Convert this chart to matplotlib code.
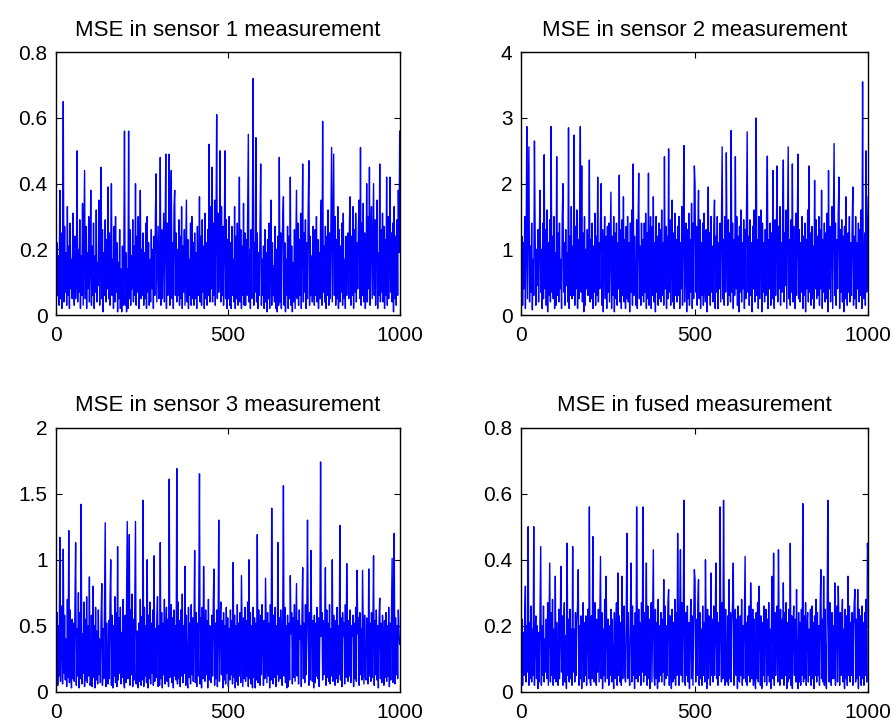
import numpy as np
import matplotlib.pyplot as plt

plt.rcParams['font.family'] = ['Liberation Sans', 'DejaVu Sans']

# MSE values, in hundredths (500 samples per panel, k = 1..1000)
mse_s1 = [4, 22, 6, 18, 3, 38, 5, 25, 2, 16, 65, 4, 27, 7, 19, 3, 33, 6, 21, 2, 28, 8, 17, 5, 31,
          14, 3, 24, 5, 11, 50, 4, 20, 7, 29, 2, 18, 6, 34, 3, 24, 44, 5, 27, 2, 19, 8, 30, 4, 15,
          38, 3, 21, 6, 28, 2, 18, 7, 32, 4, 16, 9, 35, 3, 22, 45, 5, 26, 1, 19, 6, 29, 4, 23, 8,
          39, 5, 25, 3, 20, 40, 6, 17, 2, 27, 4, 30, 7, 22, 1, 16, 5, 26, 2, 14, 1, 21, 3, 17, 56,
          3, 19, 1, 14, 2, 56, 5, 26, 3, 18, 8, 29, 4, 21, 6, 40, 3, 24, 7, 30, 2, 17, 38, 5, 20,
          6, 25, 3, 19, 5, 28, 2, 30, 7, 22, 3, 17, 4, 26, 8, 20, 2, 24, 6, 31, 43, 4, 16, 27, 5,
          7, 48, 3, 26, 5, 19, 31, 4, 23, 49, 2, 28, 6, 15, 49, 3, 27, 44, 5, 22, 2, 33, 38, 6, 25,
          4, 20, 6, 29, 3, 24, 5, 33, 2, 21, 7, 26, 3, 18, 35, 4, 23, 2, 17, 6, 28, 3, 30, 5, 22,
          3, 25, 5, 19, 2, 27, 6, 15, 36, 4, 24, 3, 29, 7, 21, 2, 31, 5, 22, 3, 26, 6, 52, 4, 33,
          8, 45, 4, 28, 6, 35, 3, 26, 61, 5, 31, 7, 20, 50, 4, 33, 6, 27, 3, 21, 50, 5, 29, 2, 23,
          5, 30, 3, 22, 2, 27, 6, 17, 4, 33, 2, 24, 5, 28, 3, 20, 42, 4, 26, 2, 21, 6, 34, 3, 25,
          3, 23, 6, 29, 55, 4, 20, 2, 26, 5, 31, 72, 3, 22, 7, 54, 4, 25, 2, 19, 6, 28, 46, 3, 17,
          6, 21, 2, 26, 4, 19, 1, 23, 5, 28, 2, 17, 35, 3, 22, 6, 15, 4, 27, 2, 20, 1, 24, 3, 48,
          4, 25, 2, 19, 29, 36, 3, 22, 1, 17, 6, 27, 2, 24, 5, 42, 3, 21, 1, 16, 4, 26, 2, 20, 38,
          5, 28, 3, 23, 6, 31, 2, 20, 46, 4, 25, 7, 29, 2, 22, 5, 33, 47, 3, 24, 6, 18, 4, 27, 8,
          3, 26, 6, 30, 4, 23, 2, 19, 5, 28, 35, 3, 59, 7, 21, 4, 27, 2, 24, 6, 32, 3, 25, 5, 29,
          51, 4, 27, 49, 6, 30, 3, 23, 5, 33, 2, 26, 4, 21, 7, 28, 3, 31, 5, 17, 2, 24, 6, 20, 25,
          5, 29, 36, 3, 24, 6, 33, 2, 26, 7, 31, 4, 22, 8, 27, 35, 5, 51, 3, 28, 6, 34, 4, 25, 2,
          7, 40, 4, 30, 8, 45, 3, 25, 33, 5, 22, 40, 6, 29, 3, 24, 35, 2, 19, 6, 46, 4, 26, 7, 31,
          4, 27, 2, 23, 6, 42, 3, 30, 5, 20, 42, 7, 25, 4, 28, 1, 33, 5, 24, 3, 29, 6, 38, 19, 56]

mse_s2 = [30, 120, 15, 110, 40, 150, 10, 95, 287, 25, 135, 256, 20, 105, 35, 140, 8, 85, 30, 265, 125, 15, 100, 45, 130,
          20, 115, 190, 35, 100, 10, 140, 25, 244, 40, 130, 15, 160, 5, 110, 30, 145, 20, 287, 35, 120, 25, 150, 10, 95,
          15, 241, 30, 125, 20, 140, 40, 85, 10, 150, 200, 35, 110, 15, 130, 45, 95, 20, 285, 10, 120, 30, 165, 25, 105,
          30, 274, 15, 135, 40, 160, 10, 115, 25, 145, 287, 35, 227, 20, 125, 5, 150, 15, 100, 40, 130, 30, 90, 236, 20,
          115, 25, 140, 10, 105, 35, 155, 15, 120, 30, 210, 20, 110, 40, 145, 200, 15, 130, 5, 95, 150, 25, 120, 10, 135,
          35, 140, 20, 105, 187, 10, 120, 30, 150, 5, 125, 25, 140, 15, 110, 40, 213, 20, 130, 10, 145, 30, 180, 20, 115,
          10, 135, 25, 150, 20, 110, 5, 140, 35, 160, 15, 230, 30, 120, 45, 15, 145, 10, 130, 216, 25, 105, 15, 140, 30,
          115, 20, 140, 35, 155, 10, 125, 25, 216, 15, 100, 150, 10, 135, 30, 180, 20, 110, 5, 150, 35, 120, 15, 140, 25,
          130, 20, 160, 30, 110, 15, 241, 40, 135, 10, 120, 25, 253, 35, 145, 15, 105, 175, 20, 125, 10, 155, 30, 115, 20,
          135, 30, 150, 10, 110, 40, 165, 15, 125, 258, 20, 100, 140, 5, 130, 25, 155, 15, 115, 35, 170, 10, 140, 25, 227,
          200, 35, 135, 15, 120, 190, 25, 145, 10, 110, 30, 140, 15, 155, 40, 20, 130, 5, 115, 195, 30, 125, 15, 150, 35,
          105, 20, 135, 175, 10, 120, 35, 150, 10, 110, 40, 140, 20, 130, 256, 25, 115, 15, 150, 35, 247, 100, 15, 145, 30,
          125, 20, 281, 35, 140, 10, 115, 30, 241, 40, 150, 15, 120, 5, 135, 35, 160, 20, 110, 40, 145, 10, 130, 25, 155,
          279, 35, 120, 15, 145, 30, 110, 5, 135, 40, 160, 20, 125, 300, 30, 115, 10, 150, 25, 130, 160, 5, 140, 35, 110,
          20, 130, 30, 155, 242, 10, 115, 40, 140, 15, 125, 25, 220, 45, 10, 145, 30, 120, 227, 20, 135, 40, 165, 15, 110,
          35, 150, 236, 20, 125, 45, 160, 10, 130, 256, 25, 115, 15, 145, 35, 230, 20, 135, 40, 10, 155, 30, 120, 245, 25,
          130, 20, 110, 35, 150, 10, 120, 30, 140, 5, 115, 40, 160, 20, 227, 35, 125, 15, 135, 25, 105, 10, 205, 40, 145,
          25, 120, 30, 150, 15, 130, 40, 190, 10, 115, 35, 140, 20, 125, 25, 155, 5, 220, 40, 135, 20, 110, 165, 10, 130,
          261, 30, 140, 15, 115, 40, 155, 210, 10, 130, 35, 145, 20, 120, 5, 135, 25, 180, 45, 15, 125, 35, 150, 20, 110,
          30, 135, 195, 15, 120, 25, 150, 10, 110, 40, 140, 20, 130, 30, 160, 10, 355, 45, 25, 125, 15, 250, 35, 115, 180]

mse_s3 = [10, 60, 5, 50, 12, 117, 8, 45, 65, 6, 108, 14, 58, 9, 40, 4, 70, 11, 122, 7, 62, 15, 3, 55, 10,
          52, 8, 66, 113, 5, 48, 12, 75, 3, 60, 10, 142, 6, 44, 14, 68, 4, 55, 9, 72, 7, 50, 12, 87, 5,
          8, 58, 4, 80, 11, 50, 3, 64, 9, 46, 6, 62, 13, 40, 7, 55, 82, 5, 48, 10, 66, 128, 4, 52, 12,
          6, 54, 10, 68, 100, 5, 58, 3, 50, 12, 72, 7, 60, 4, 110, 9, 56, 14, 64, 6, 45, 11, 70, 8, 3,
          58, 7, 66, 129, 10, 50, 119, 5, 62, 13, 74, 4, 55, 9, 68, 129, 6, 46, 12, 3, 52, 8, 70, 5, 57,
          9, 145, 4, 64, 12, 50, 7, 100, 3, 58, 10, 68, 6, 52, 14, 62, 5, 103, 8, 48, 11, 56, 72, 4, 50,
          5, 113, 10, 60, 3, 52, 13, 70, 6, 44, 64, 8, 55, 4, 161, 11, 48, 66, 7, 56, 3, 62, 12, 50, 9,
          169, 6, 68, 10, 54, 4, 62, 12, 74, 7, 50, 14, 95, 5, 58, 9, 3, 64, 11, 52, 6, 66, 13, 56, 8,
          48, 107, 7, 60, 4, 52, 12, 68, 165, 6, 56, 3, 64, 10, 95, 46, 8, 62, 13, 54, 3, 70, 9, 50, 11,
          7, 58, 12, 66, 93, 5, 52, 10, 62, 4, 44, 130, 8, 48, 68, 13, 54, 3, 60, 9, 50, 6, 64, 14, 56,
          4, 48, 9, 62, 13, 54, 6, 98, 11, 58, 3, 50, 8, 66, 5, 52, 12, 60, 7, 88, 44, 4, 56, 10, 64,
          8, 54, 12, 68, 4, 100, 10, 60, 6, 50, 3, 64, 11, 56, 3, 52, 9, 119, 7, 62, 46, 5, 58, 13, 66,
          40, 5, 54, 10, 86, 44, 7, 60, 12, 52, 3, 66, 9, 139, 48, 6, 58, 11, 64, 4, 50, 13, 113, 8, 56,
          10, 62, 42, 5, 54, 156, 12, 64, 7, 50, 3, 58, 4, 52, 9, 88, 44, 60, 6, 56, 11, 66, 8, 48, 82,
          12, 54, 6, 62, 40, 50, 4, 58, 94, 10, 52, 7, 66, 13, 56, 130, 44, 5, 60, 9, 107, 48, 8, 54, 3,
          58, 7, 52, 12, 64, 10, 56, 4, 50, 174, 42, 60, 9, 54, 13, 46, 94, 5, 62, 11, 52, 8, 66, 6, 48,
          12, 100, 8, 58, 46, 5, 54, 10, 64, 7, 50, 13, 126, 9, 56, 4, 60, 42, 52, 6, 66, 11, 97, 48, 8,
          54, 12, 62, 7, 50, 42, 58, 4, 52, 10, 64, 8, 92, 44, 56, 5, 60, 13, 48, 9, 92, 52, 6, 58, 11,
          9, 56, 44, 6, 93, 12, 52, 8, 60, 11, 48, 103, 5, 54, 13, 62, 9, 50, 3, 56, 71, 10, 52, 7, 58,
          42, 5, 54, 11, 60, 8, 50, 12, 64, 4, 52, 9, 58, 101, 7, 46, 120, 6, 56, 13, 50, 10, 62, 44, 36]

mse_fused = [4, 22, 2, 18, 5, 24, 32, 3, 20, 6, 50, 2, 21, 4, 26, 3, 19, 5, 50, 2, 17, 23, 4, 20, 1,
             18, 3, 24, 44, 2, 20, 5, 26, 3, 16, 6, 22, 4, 27, 2, 21, 39, 3, 24, 5, 28, 2, 19, 4, 35,
             3, 21, 5, 2, 25, 4, 18, 38, 6, 23, 2, 20, 27, 3, 17, 1, 45, 5, 22, 3, 25, 4, 19, 2, 44,
             6, 19, 3, 24, 5, 21, 26, 37, 2, 20, 4, 23, 1, 18, 27, 3, 21, 5, 23, 2, 19, 25, 4, 56, 3,
             2, 23, 4, 47, 20, 3, 27, 5, 2, 22, 6, 25, 3, 21, 41, 4, 24, 1, 19, 5, 28, 3, 35, 18, 4,
             22, 2, 20, 5, 25, 3, 22, 6, 1, 24, 4, 19, 27, 2, 36, 5, 23, 3, 21, 2, 35, 4, 18, 26, 5,
             3, 22, 48, 4, 24, 6, 2, 23, 39, 3, 26, 5, 20, 1, 24, 4, 56, 18, 3, 25, 5, 21, 2, 27, 6,
             56, 3, 24, 5, 20, 39, 2, 26, 4, 22, 1, 19, 27, 3, 23, 43, 5, 2, 25, 4, 21, 1, 28, 3, 20,
             5, 24, 3, 22, 6, 34, 2, 26, 4, 20, 5, 27, 31, 2, 23, 6, 1, 25, 3, 21, 4, 28, 2, 24, 5,
             48, 20, 2, 25, 43, 5, 27, 3, 22, 58, 4, 2, 24, 5, 26, 3, 21, 1, 19, 28, 4, 23, 2, 20, 37,
             34, 3, 22, 5, 27, 34, 2, 24, 4, 19, 2, 26, 5, 21, 3, 40, 18, 1, 25, 4, 23, 20, 2, 36, 5,
             22, 3, 26, 5, 20, 39, 4, 24, 2, 21, 5, 56, 19, 3, 27, 4, 58, 22, 2, 25, 6, 3, 23, 2, 34,
             4, 24, 3, 21, 27, 39, 2, 19, 25, 5, 22, 1, 26, 4, 3, 23, 5, 28, 2, 20, 4, 24, 41, 3, 21,
             2, 23, 5, 26, 3, 33, 20, 4, 25, 2, 22, 5, 1, 24, 4, 27, 3, 32, 19, 2, 23, 1, 21, 5, 26,
             3, 20, 25, 2, 22, 5, 27, 3, 19, 1, 23, 35, 4, 42, 2, 24, 5, 21, 26, 3, 43, 18, 2, 25, 4,
             22, 4, 33, 2, 24, 5, 27, 1, 21, 3, 25, 4, 45, 2, 23, 1, 20, 26, 5, 22, 3, 31, 4, 1, 24,
             3, 21, 2, 25, 5, 57, 3, 23, 4, 27, 2, 20, 24, 3, 19, 5, 25, 2, 26, 4, 21, 1, 23, 5, 28,
             3, 24, 5, 20, 2, 26, 37, 4, 22, 3, 35, 2, 25, 4, 1, 23, 58, 21, 3, 27, 5, 2, 24, 4, 20,
             4, 33, 2, 22, 26, 3, 32, 20, 2, 24, 5, 21, 28, 3, 19, 1, 25, 4, 23, 2, 35, 5, 26, 3, 21,
             5, 24, 2, 20, 27, 31, 3, 22, 4, 31, 1, 25, 5, 23, 2, 26, 4, 21, 2, 24, 5, 28, 3, 45, 40]

titles = ["MSE in sensor 1 measurement", "MSE in sensor 2 measurement",
          "MSE in sensor 3 measurement", "MSE in fused measurement"]
series = [mse_s1, mse_s2, mse_s3, mse_fused]
ymax = [0.8, 4, 2, 0.8]
yticks = [[0, 0.2, 0.4, 0.6, 0.8], [0, 1, 2, 3, 4],
          [0, 0.5, 1, 1.5, 2], [0, 0.2, 0.4, 0.6, 0.8]]
yticklabels = [["0", "0.2", "0.4", "0.6", "0.8"], ["0", "1", "2", "3", "4"],
               ["0", "0.5", "1", "1.5", "2"], ["0", "0.2", "0.4", "0.6", "0.8"]]

# axes boxes [left, bottom, width, height] in figure fraction
boxes = [[0.0626, 0.566, 0.384, 0.362], [0.582, 0.566, 0.388, 0.362],
         [0.0626, 0.047, 0.384, 0.364], [0.582, 0.047, 0.388, 0.364]]

fig = plt.figure(figsize=(8.95, 7.26), dpi=100)
for k in range(4):
    ax = fig.add_axes(boxes[k])
    y = np.array(series[k]) / 100.0
    x = np.linspace(1, 1000, len(y))
    ax.plot(x, y, color="#0000ff", linewidth=1.0)
    ax.set_xlim(0, 1000)
    ax.set_ylim(0, ymax[k])
    ax.set_xticks([0, 500, 1000])
    ax.set_yticks(yticks[k])
    ax.set_yticklabels(yticklabels[k])
    ax.tick_params(direction="in", length=4, width=0.8, top=True, right=True,
                   labelsize=15)
    ax.tick_params(axis="x", pad=8)
    ax.tick_params(axis="y", pad=6)
    for s in ax.spines.values():
        s.set_linewidth(1.0)
    ax.set_title(titles[k], fontsize=16, pad=12)

plt.savefig("out.png", dpi=100)
